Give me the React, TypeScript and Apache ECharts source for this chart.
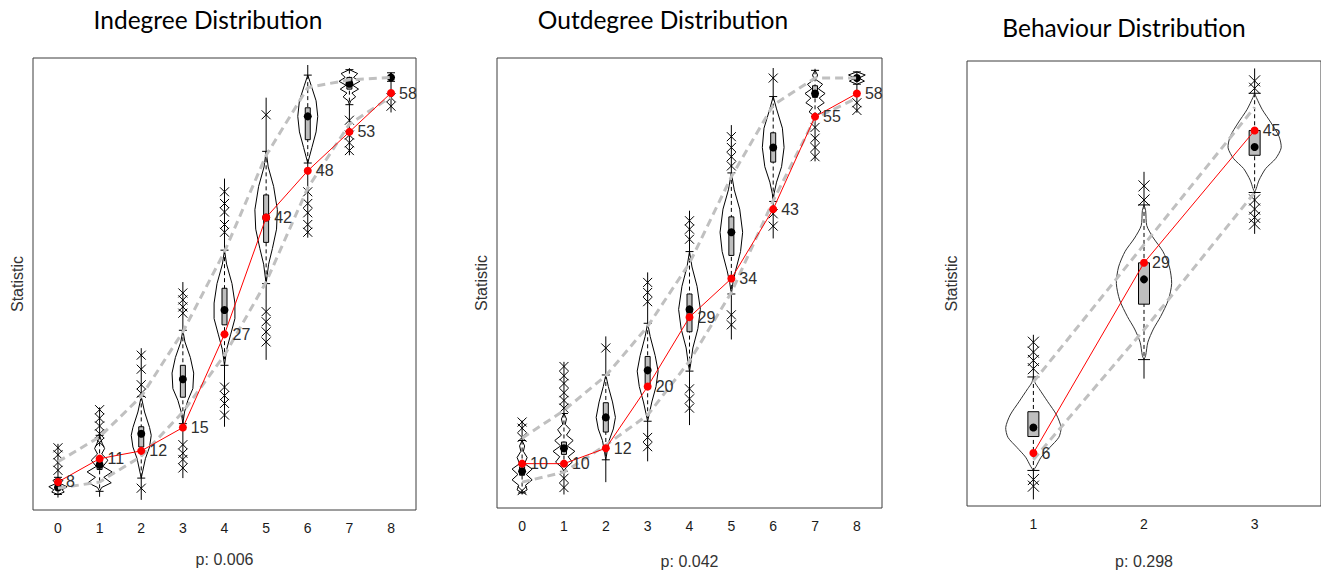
import React, { useEffect, useRef } from "react";
import * as echarts from "echarts";

// ---------- Indegree ----------
const inCategories = [0, 1, 2, 3, 4, 5, 6, 7, 8];
const inObserved = [8, 11, 12, 15, 27, 42, 48, 53, 58];
const inUpper = [10.6, 13.8, 19, 27.3, 37.6, 50, 58.7, 59.7, 60];
const inLower = [7.2, 8, 11.3, 17, 24.3, 33.7, 45.8, 54, 57.5];
const inMedian = [7.3, 10.2, 14.2, 21.2, 30.1, 42, 55, 59.2, 60];
const inBoxLow = [7, 9.6, 12.5, 18.9, 28.2, 38.8, 52, 58.5, 59.8];
const inBoxHigh = [7.8, 10.8, 15.1, 23, 32.9, 44.9, 56.1, 60, 60.2];
const inMin = [6, 6.1, 5.7, 8.5, 15.1, 23.7, 39.4, 50, 55.5];
const inMax = [12.9, 17.6, 25.2, 33.7, 47, 57.4, 61.6, 61.2, 60.6];
const inCrosses = [
  [9.5, 10.5, 11.5, 12.4],
  [13.1, 14.2, 15.2, 16.2, 17.3],
  [7.2, 19.4, 20.5, 22.5, 24.3],
  [9.8, 10.9, 11.7, 12.8, 29.7, 30.5, 31.4, 32.3],
  [16.6, 18.1, 19.1, 20.2, 40.1, 41.1, 42.7, 43.8, 45.3],
  [26, 27.3, 28.6, 29.9, 55.2],
  [40.1, 41.1, 42.6, 43.8, 45.3],
  [50.6, 51.6, 52.6, 54.5],
  [56.3, 57.4],
];
const inViolin = [
  [[8.6, 0], [8.2, 0.12], [7.8, 0.05], [7.4, 0.22], [7.0, 0.1], [6.7, 0.15], [6.4, 0]],
  [[14, 0], [13, 0.06], [12.3, 0.12], [11.6, 0.05], [10.8, 0.2], [10, 0.08], [9.3, 0.3], [8.6, 0.1], [7.9, 0.28], [7.3, 0.05], [6.8, 0]],
  [[19, 0], [17, 0.08], [15, 0.2], [14, 0.24], [12.5, 0.2], [11, 0.1], [9, 0.02], [8.5, 0]],
  [[27.5, 0], [26, 0.05], [24, 0.18], [22, 0.26], [20, 0.24], [18.5, 0.12], [17, 0.04], [15.5, 0]],
  [[37.8, 0], [36, 0.05], [33.5, 0.18], [31, 0.25], [29, 0.25], [27, 0.15], [25, 0.05], [23, 0]],
  [[50.5, 0], [48.5, 0.05], [46, 0.18], [43, 0.27], [40.5, 0.25], [38, 0.15], [36, 0.06], [33.5, 0]],
  [[60.3, 0], [59, 0.08], [57, 0.2], [55, 0.24], [53, 0.2], [51, 0.1], [49, 0]],
  [[61, 0], [60.5, 0.2], [60, 0.1], [59.5, 0.25], [59, 0.08], [58.5, 0.22], [58, 0.06], [57.5, 0.15], [57, 0.03], [56.5, 0]],
  [[60.6, 0], [60, 0.08], [59.5, 0]],
];

// ---------- Outdegree ----------
const outCategories = [0, 1, 2, 3, 4, 5, 6, 7, 8];
const outObserved = [10, 10, 12, 20, 29, 34, 43, 55, 58];
const outUpper = [13.3, 16.9, 21.4, 27.8, 36, 47.2, 56.5, 60, 60];
const outLower = [7.6, 8.9, 12.4, 16.3, 23.3, 32.2, 44.1, 54.8, 57.4];
const outMedian = [9, 12, 16, 22.1, 30, 40, 51, 58, 60];
const outBoxLow = [8.5, 11.2, 14.1, 20.3, 27.1, 37, 49.1, 57.5, 59.7];
const outBoxHigh = [9.6, 12.8, 17.9, 23.9, 32, 42, 52.9, 59, 60.3];
const outMin = [6, 6, 7.6, 10.3, 15, 26.1, 39.2, 49.2, 55.5];
const outMax = [15.6, 23.2, 26.5, 34.8, 42.8, 53.9, 61.3, 61.2, 60.8];
const outCrosses = [
  [6.5, 13.4, 14.6, 15.4],
  [6.9, 8.1, 17.2, 18.2, 19.2, 20.4, 21.4, 22.6],
  [25],
  [12.2, 13.4, 31, 32.2, 33.5],
  [17.2, 18.4, 19.7, 39.1, 40.4, 41.5],
  [28, 29.3, 48.6, 49.8, 51, 52.4],
  [40.8, 42.4, 60],
  [49.8, 51, 52.2, 53.6],
  [55.8, 56.8],
];
const outViolin = [
  [[13, 0], [12.3, 0.06], [11.6, 0.03], [10.8, 0.12], [10, 0.06], [9.3, 0.24], [8.6, 0.1], [7.9, 0.24], [7.2, 0.08], [6.6, 0.12], [6.2, 0]],
  [[16.5, 0], [15.8, 0.06], [15.1, 0.03], [14.4, 0.15], [13.7, 0.06], [13, 0.22], [12.3, 0.08], [11.6, 0.26], [10.9, 0.1], [10.2, 0.2], [9.5, 0.05], [9, 0]],
  [[21.5, 0], [20, 0.06], [18, 0.16], [16, 0.23], [14.5, 0.18], [13, 0.08], [11.5, 0.03], [10.5, 0]],
  [[28.2, 0], [26.5, 0.06], [24, 0.18], [22, 0.25], [20, 0.2], [18, 0.1], [16.5, 0.04], [15.5, 0]],
  [[37.5, 0], [35.5, 0.06], [33, 0.18], [30, 0.26], [27.5, 0.2], [25, 0.08], [23, 0.03], [22, 0]],
  [[47.7, 0], [45.5, 0.07], [43, 0.2], [40, 0.27], [37.5, 0.22], [35, 0.1], [33.5, 0.04], [32, 0]],
  [[57.6, 0], [56, 0.08], [53.5, 0.22], [51, 0.26], [48.5, 0.2], [46.5, 0.08], [45, 0.02], [44, 0]],
  [[61, 0], [60.4, 0.06], [59.8, 0.02], [59.2, 0.18], [58.6, 0.08], [58, 0.24], [57.4, 0.1], [56.8, 0.22], [56.2, 0.06], [55.6, 0.14], [55, 0]],
  [[60.8, 0], [60.4, 0.2], [60, 0.05], [59.6, 0.18], [59.2, 0]],
];

// ---------- Behaviour ----------
const behCategories = [1, 2, 3];
const behObserved = [6, 29, 45];
const behUpper = [14.6, 31.2, 47.8];
const behLower = [5.2, 20.9, 37.5];
const behMedian = [9.1, 27, 43];
const behBoxLow = [8, 24, 42];
const behBoxHigh = [11, 29, 45];
const behMin = [0.4, 15, 32.5];
const behMax = [20.3, 40, 52.5];
const behCrosses = [
  [2, 2.8, 16.2, 17.2, 18.2, 19.4],
  [36.6, 38.3],
  [33.7, 34.5, 35.5, 36.6, 50.1, 51],
];
const behViolin = [
  [[15.2, 0], [14.5, 0.015], [13.8, 0.05], [12.2, 0.13], [10.6, 0.21], [9.1, 0.25], [7.9, 0.23], [6.7, 0.15], [5.5, 0.07], [4.4, 0.025], [3.9, 0]],
  [[36, 0], [35.3, 0.015], [33.5, 0.025], [32, 0.085], [30.4, 0.17], [28.5, 0.23], [26.5, 0.25], [24.5, 0.22], [22.5, 0.15], [21, 0.085], [19.4, 0.035], [17.8, 0.015], [17.3, 0]],
  [[49.5, 0], [49, 0.015], [47.5, 0.07], [45.9, 0.15], [44.3, 0.22], [42.9, 0.24], [41.6, 0.19], [40.4, 0.1], [39, 0.04], [38, 0.015], [37.5, 0]],
];

const titles = ["Indegree Distribution", "Outdegree Distribution", "Behaviour Distribution"];
const pLabels = ["p: 0.006", "p: 0.042", "p: 0.298"];

const SANS = "'Liberation Sans', Arial, sans-serif";

function violinSeries(
  idx: number,
  cats: number[],
  violin: number[][][],
  boxLo: number[],
  boxHi: number[],
  median: number[],
  minV: number[],
  maxV: number[],
  crosses: number[][],
  o: { box: number; cap: number; cross: number; smooth: number; stroke: string }
) {
  return {
    type: "custom",
    xAxisIndex: idx,
    yAxisIndex: idx,
    z: 2,
    silent: true,
    data: cats.map((c, i) => [c, median[i]]),
    encode: { x: 0, y: 1 },
    renderItem: (params: any, api: any) => {
      const i = params.dataIndex;
      const cx = api.coord([cats[i], median[i]])[0];
      const unit = api.size([1, 0])[0];
      const Y = (v: number) => api.coord([cats[i], v])[1];
      const prof = violin[i];
      const right = prof.map(([v, w]) => [cx + w * unit, Y(v)]);
      const left = prof
        .slice()
        .reverse()
        .map(([v, w]) => [cx - w * unit, Y(v)]);
      const vTop = prof[0][0];
      const vBot = prof[prof.length - 1][0];
      const black = { stroke: "#000", lineWidth: 1 };
      const children: any[] = [
        { type: "line", shape: { x1: cx, y1: Y(maxV[i]), x2: cx, y2: Y(vTop) }, style: black },
        { type: "line", shape: { x1: cx, y1: Y(vBot), x2: cx, y2: Y(minV[i]) }, style: black },
        { type: "line", shape: { x1: cx, y1: Y(vTop), x2: cx, y2: Y(vBot) }, style: { stroke: "#000", lineWidth: 1, lineDash: [4, 3] } },
        {
          type: "polygon",
          shape: { points: right.concat(left), smooth: o.smooth },
          style: { fill: "none", stroke: o.stroke, lineWidth: 1 },
        },
        { type: "line", shape: { x1: cx - o.cap, y1: Y(vTop), x2: cx + o.cap, y2: Y(vTop) }, style: black },
        { type: "line", shape: { x1: cx - o.cap, y1: Y(vBot), x2: cx + o.cap, y2: Y(vBot) }, style: black },
      ];
      crosses[i].forEach((v) => {
        const y = Y(v);
        children.push({ type: "line", shape: { x1: cx - o.cross, y1: y - o.cross, x2: cx + o.cross, y2: y + o.cross }, style: black });
        children.push({ type: "line", shape: { x1: cx - o.cross, y1: y + o.cross, x2: cx + o.cross, y2: y - o.cross }, style: black });
      });
      const yHi = Y(boxHi[i]);
      const yLo = Y(boxLo[i]);
      children.push({
        type: "rect",
        shape: { x: cx - o.box, y: yHi, width: 2 * o.box, height: Math.max(1, yLo - yHi) },
        style: { fill: "#bebebe", stroke: "#000", lineWidth: 1 },
      });
      children.push({ type: "circle", shape: { cx, cy: Y(median[i]), r: 4 }, style: { fill: "#000" } });
      return { type: "group", children };
    },
  };
}

function percSeries(idx: number, cats: number[], vals: number[]) {
  return {
    type: "line",
    xAxisIndex: idx,
    yAxisIndex: idx,
    z: 3,
    silent: true,
    symbol: "none",
    data: cats.map((c, i) => [c, vals[i]]),
    lineStyle: { color: "#c0c0c0", width: 3, type: [8, 5] },
  };
}

function obsSeries(idx: number, cats: number[], vals: number[]) {
  return {
    type: "line",
    xAxisIndex: idx,
    yAxisIndex: idx,
    z: 4,
    silent: true,
    symbol: "circle",
    symbolSize: 8,
    data: cats.map((c, i) => [c, vals[i]]),
    itemStyle: { color: "#ff0000" },
    lineStyle: { color: "#ff0000", width: 1 },
    label: {
      show: true,
      position: "right",
      distance: 4,
      formatter: (p: any) => String(p.value[1]),
      fontSize: 16,
      color: "#2f2f2f",
      fontFamily: SANS,
    },
  };
}

export default function App() {
  const ref = useRef<HTMLDivElement>(null);
  useEffect(() => {
    if (!ref.current) return;
    const chart = echarts.init(ref.current, null, { renderer: "svg" });
    const grids = [
      { left: 33, top: 58, width: 383, height: 452 },
      { left: 497, top: 58, width: 385, height: 456 },
      { left: 967, top: 61, width: 376, height: 454 },
    ];
    const yRanges = [
      [4.4, 62.5],
      [4.25, 62.6],
      [-0.4, 53.4],
    ];
    const xRanges = [
      [-0.6, 8.6],
      [-0.6, 8.6],
      [0.4, 3.6],
    ];
    const catsAll = [inCategories, outCategories, behCategories];
    const nameGaps = [41, 45, 47];
    const titleFont = { fontSize: 24.5, fontFamily: "Lato, sans-serif", fill: "#000", textAlign: "center", textVerticalAlign: "middle" };
    const option: any = {
      animation: false,
      grid: grids.map((g) => ({ ...g, show: true, borderColor: "#3c3c3c", borderWidth: 1, backgroundColor: "transparent" })),
      xAxis: grids.map((_, k) => ({
        gridIndex: k,
        type: "value",
        min: xRanges[k][0],
        max: xRanges[k][1],
        axisLine: { show: false },
        axisTick: { show: false },
        splitLine: { show: false },
        axisLabel: {
          customValues: catsAll[k],
          fontSize: 14,
          color: "#1a1a1a",
          margin: 11,
          fontFamily: "'Liberation Sans Narrow', 'Liberation Sans', Arial, sans-serif",
        },
        name: pLabels[k],
        nameLocation: "middle",
        nameGap: nameGaps[k],
        nameTextStyle: { fontSize: 16, color: "#333", fontFamily: SANS },
      })),
      yAxis: grids.map((_, k) => ({
        gridIndex: k,
        type: "value",
        min: yRanges[k][0],
        max: yRanges[k][1],
        axisLine: { show: false },
        axisTick: { show: false },
        axisLabel: { show: false },
        splitLine: { show: false },
        name: "Statistic",
        nameLocation: "middle",
        nameRotate: 90,
        nameGap: 8,
        nameTextStyle: { fontSize: 16, color: "#333", fontFamily: SANS },
      })),
      graphic: [
        { type: "text", x: 208, y: 19, z: 100, style: { ...titleFont, text: titles[0] } },
        { type: "text", x: 663, y: 19, z: 100, style: { ...titleFont, text: titles[1] } },
        { type: "text", x: 1124, y: 27, z: 100, style: { ...titleFont, text: titles[2] } },
        { type: "rect", z: 100, shape: { x: 417, y: 50, width: 50, height: 470 }, style: { fill: "#fff" } },
        { type: "rect", z: 100, shape: { x: 883, y: 50, width: 55, height: 470 }, style: { fill: "#fff" } },
      ],
      series: [
        violinSeries(0, inCategories, inViolin, inBoxLow, inBoxHigh, inMedian, inMin, inMax, inCrosses, { box: 2.5, cap: 4, cross: 4.5, smooth: 0, stroke: "#000" }),
        percSeries(0, inCategories, inUpper),
        percSeries(0, inCategories, inLower),
        obsSeries(0, inCategories, inObserved),
        violinSeries(1, outCategories, outViolin, outBoxLow, outBoxHigh, outMedian, outMin, outMax, outCrosses, { box: 2.5, cap: 4, cross: 4.5, smooth: 0, stroke: "#000" }),
        percSeries(1, outCategories, outUpper),
        percSeries(1, outCategories, outLower),
        obsSeries(1, outCategories, outObserved),
        violinSeries(2, behCategories, behViolin, behBoxLow, behBoxHigh, behMedian, behMin, behMax, behCrosses, { box: 5.5, cap: 6, cross: 5.5, smooth: 0.25, stroke: "#333" }),
        percSeries(2, behCategories, behUpper),
        percSeries(2, behCategories, behLower),
        obsSeries(2, behCategories, behObserved),
      ],
    };
    chart.setOption(option);
    return () => chart.dispose();
  }, []);
  return <div ref={ref} style={{ position: "absolute", left: 0, top: 0, width: 1321, height: 574 }} />;
}
